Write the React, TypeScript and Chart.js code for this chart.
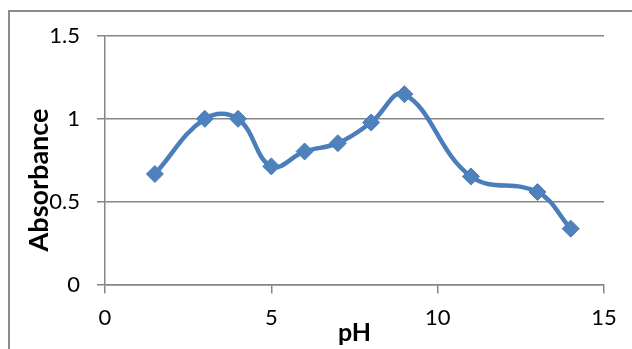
import React, { useEffect, useRef } from 'react';
import { Chart, registerables } from 'chart.js';

Chart.register(...registerables);

const phValues = [1.5, 3, 4, 5, 6, 7, 8, 9, 11, 13, 14];
const absorbance = [0.667, 1.0, 1.0, 0.713, 0.803, 0.853, 0.978, 1.149, 0.652, 0.558, 0.337];
const xTickValues = [0, 5, 10, 15];
const yTickValues = [0, 0.5, 1, 1.5];
const xTitle = 'pH';
const yTitle = 'Absorbance';

const framePlugin = {
  id: 'outerFrame',
  beforeDraw(chart: any) {
    const ctx = chart.ctx;
    ctx.save();
    ctx.strokeStyle = '#8c8c8c';
    ctx.lineWidth = 2;
    ctx.strokeRect(9, 11, 1000, 1000);
    ctx.restore();
  },
};

export default function App() {
  const ref = useRef<HTMLCanvasElement | null>(null);

  useEffect(() => {
    if (!ref.current) return;
    const gridColor = '#868686';
    const chart = new Chart(ref.current, {
      type: 'scatter',
      data: {
        datasets: [
          {
            data: phValues.map((x, i) => ({ x, y: absorbance[i] })),
            showLine: true,
            tension: 0.4,
            borderColor: '#4A7EBB',
            borderWidth: 4.5,
            backgroundColor: '#4F81BD',
            pointStyle: 'rectRot',
            pointRadius: 8.5,
            pointBorderWidth: 1,
            pointBorderColor: '#4A7EBB',
            pointBackgroundColor: '#4F81BD',
          },
        ],
      },
      options: {
        animation: false,
        responsive: false,
        maintainAspectRatio: false,
        devicePixelRatio: 1,
        layout: { padding: { top: 36, right: 28, bottom: 0, left: 0 } },
        plugins: {
          legend: { display: false },
          tooltip: { enabled: false },
        },
        scales: {
          x: {
            type: 'linear',
            min: 0,
            max: 15,
            afterBuildTicks: (s: any) => {
              s.ticks = xTickValues.map((v) => ({ value: v }));
            },
            afterFit: (s: any) => {
              s.height = 64.5;
            },
            ticks: {
              color: '#000',
              padding: 11,
              font: { family: 'Lato', size: 22 },
              callback: (v: any) => String(v),
            },
            grid: {
              drawOnChartArea: false,
              drawTicks: true,
              tickLength: 9,
              color: gridColor,
              lineWidth: 1.5,
            },
            border: { display: true, color: gridColor, width: 1.5 },
            title: {
              display: true,
              text: xTitle,
              color: '#000',
              font: { family: 'Lato', size: 25, weight: 'bold' },
              padding: { top: 0, bottom: 1 },
            },
          },
          y: {
            type: 'linear',
            min: 0,
            max: 1.5,
            afterBuildTicks: (s: any) => {
              s.ticks = yTickValues.map((v) => ({ value: v }));
            },
            afterFit: (s: any) => {
              s.width = 105;
            },
            ticks: {
              color: '#000',
              padding: 17,
              font: { family: 'Lato', size: 22 },
              callback: (v: any) => String(v),
            },
            grid: {
              drawOnChartArea: true,
              drawTicks: true,
              tickLength: 8,
              color: gridColor,
              lineWidth: 1.5,
            },
            border: { display: true, color: gridColor, width: 1.5 },
            title: {
              display: true,
              text: yTitle + '      ',
              color: '#000',
              font: { family: 'Lato', size: 27, weight: 'bold' },
              padding: { top: 23, bottom: 0 },
            },
          },
        },
      },
      plugins: [framePlugin],
    } as any);
    return () => chart.destroy();
  }, []);

  return (
    <div style={{ position: 'fixed', left: 0, top: 0, width: 632, height: 349, background: '#fff' }}>
      <canvas ref={ref} width={632} height={349} style={{ width: 632, height: 349, display: 'block' }} />
    </div>
  );
}
